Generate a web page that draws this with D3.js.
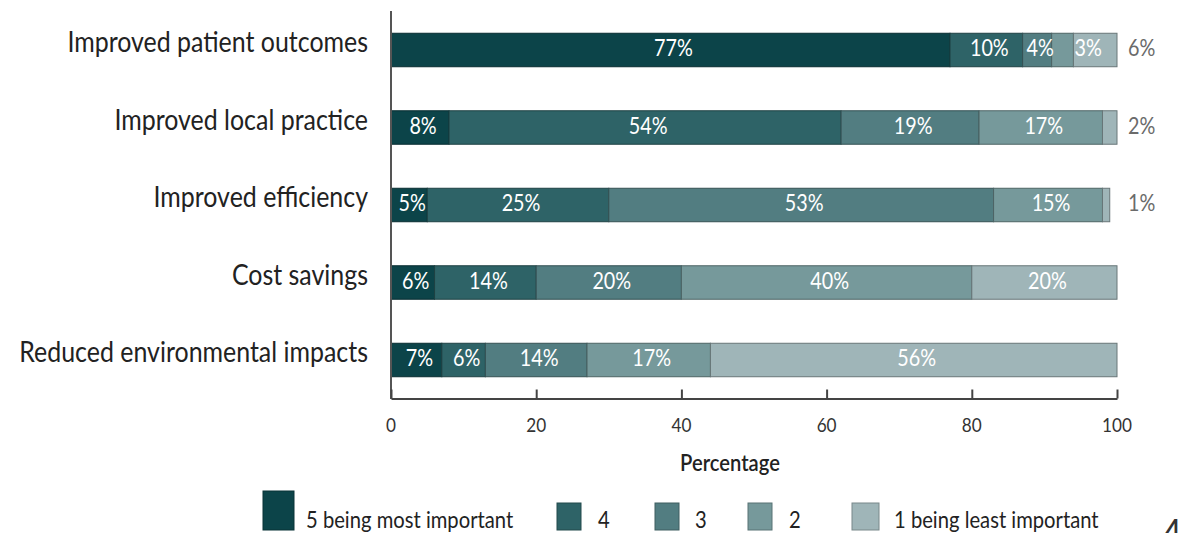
<!DOCTYPE html>
<html>
<head>
<meta charset="utf-8">
<script src="https://cdn.jsdelivr.net/npm/d3@7"></script>
<style>
  html, body { margin: 0; padding: 0; background: #fff; }
  svg { display: block; font-family: Lato, "Open Sans", sans-serif; }
</style>
</head>
<body>
<svg id="chart" width="1178" height="533"></svg>
<script>
// Importance ratings, one value per rating level for each outcome (percent)
const categories = [
  "Improved patient outcomes",
  "Improved local practice",
  "Improved efficiency",
  "Cost savings",
  "Reduced environmental impacts"
];
const levels = ["5 being most important", "4", "3", "2", "1 being least important"];
const rating5 = [77, 8, 5, 6, 7];
const rating4 = [10, 54, 25, 14, 6];
const rating3 = [4, 19, 53, 20, 14];
const rating2 = [3, 17, 15, 40, 17];
const rating1 = [6, 2, 1, 20, 56];
const xTicks = [0, 20, 40, 60, 80, 100];
const xTitle = "Percentage";

const colors = ["#0c4449", "#2e6367", "#527d81", "#76999b", "#9fb5b8"];
const series = [rating5, rating4, rating3, rating2, rating1];

const rows = categories.map((c, i) => {
  const r = { category: c };
  levels.forEach((l, j) => { r[l] = series[j][i]; });
  return r;
});
const stacked = d3.stack().keys(levels)(rows);

const svg = d3.select("#chart");
const SQ = 0.86; // horizontal text compression

const x = d3.scaleLinear().domain([0, 100]).range([391, 1117]);
const y = d3.scaleBand().domain(categories).range([11.25, 398.75])
  .paddingInner(0.568).paddingOuter(0.284);
const color = d3.scaleOrdinal().domain(levels).range(colors);

function label(g, tx, ty, text, opts) {
  const t = g.append("text")
    .attr("transform", `translate(${tx},${ty}) scale(${SQ},1)`)
    .attr("text-anchor", opts.anchor || "middle")
    .attr("font-size", opts.size)
    .attr("fill", opts.fill)
    .text(text);
  if (opts.weight) t.attr("font-weight", opts.weight);
  return t;
}

// Stacked bar segments
const layers = svg.append("g").selectAll("g").data(stacked).join("g")
  .attr("fill", d => color(d.key))
  .attr("stroke", d => d3.color(color(d.key)).darker(1.2))
  .attr("stroke-width", 1);
layers.selectAll("rect").data(d => d).join("rect")
  .attr("x", d => x(d[0]))
  .attr("y", d => y(d.data.category))
  .attr("width", d => x(d[1]) - x(d[0]))
  .attr("height", y.bandwidth());

// Segment value labels; too-narrow segments get their label just after the segment
const lbl = svg.append("g");
stacked.forEach((layer, j) => {
  layer.forEach(d => {
    const v = d[1] - d[0];
    const cy = y(d.data.category) + y.bandwidth() / 2 + 6;
    if (j === levels.length - 1 && v < 10) {
      label(lbl, x(100) + 11, cy, v + "%", { anchor: "start", size: 23, fill: "#6b6b6b" });
    } else {
      const t = label(lbl, (x(d[0]) + x(d[1])) / 2 + 3, cy, v + "%", { size: 23, fill: "#ffffff" });
      const w = t.node().getComputedTextLength() * SQ;
      if (w > x(d[1]) - x(d[0]) + 3) {
        t.attr("text-anchor", "start")
          .attr("transform", `translate(${x(d[1]) + 1},${cy}) scale(${SQ},1)`);
      }
    }
  });
});

// Category labels
const catG = svg.append("g");
categories.forEach(c => {
  label(catG, 368, y(c) + y.bandwidth() / 2 + 2, c, { anchor: "end", size: 29, fill: "#222" });
});

// Y axis line
svg.append("line")
  .attr("x1", 391).attr("x2", 391)
  .attr("y1", 11).attr("y2", 399)
  .attr("stroke", "#555").attr("stroke-width", 2);

// X axis with ticks pointing up into the plot
const xAxis = svg.append("g")
  .attr("transform", "translate(0,398.5)")
  .call(d3.axisBottom(x).tickValues(xTicks).tickSizeInner(-9).tickSizeOuter(0));
xAxis.select(".domain").attr("stroke", "#444").attr("stroke-width", 2);
xAxis.selectAll(".tick line").attr("stroke", "#444").attr("stroke-width", 2);
xAxis.selectAll(".tick text").remove();
const tickG = svg.append("g");
xTicks.forEach(t => {
  label(tickG, x(t), 432, String(t), { size: 20, fill: "#333" });
});

label(svg, 730, 471, xTitle, { size: 23.5, fill: "#222", weight: 600 });

// Legend
const legendItems = [
  { key: levels[0], rx: 263, ry: 491, rw: 31, rh: 39, tx: 306 },
  { key: levels[1], rx: 557, ry: 503, rw: 24, rh: 27, tx: 598 },
  { key: levels[2], rx: 655, ry: 503, rw: 24, rh: 27, tx: 695 },
  { key: levels[3], rx: 748, ry: 503, rw: 24, rh: 27, tx: 789 },
  { key: levels[4], rx: 852, ry: 503, rw: 27, rh: 27, tx: 894 }
];
const legend = svg.append("g");
legendItems.forEach(it => {
  legend.append("rect")
    .attr("x", it.rx).attr("y", it.ry).attr("width", it.rw).attr("height", it.rh)
    .attr("fill", color(it.key))
    .attr("stroke", d3.color(color(it.key)).darker(0.8)).attr("stroke-width", 1);
  label(legend, it.tx, 528, it.key, { anchor: "start", size: 23.5, fill: "#222" });
});

// Page number at the bottom edge
label(svg, 1162, 548, "4", { anchor: "start", size: 40, fill: "#333" });
</script>
</body>
</html>
